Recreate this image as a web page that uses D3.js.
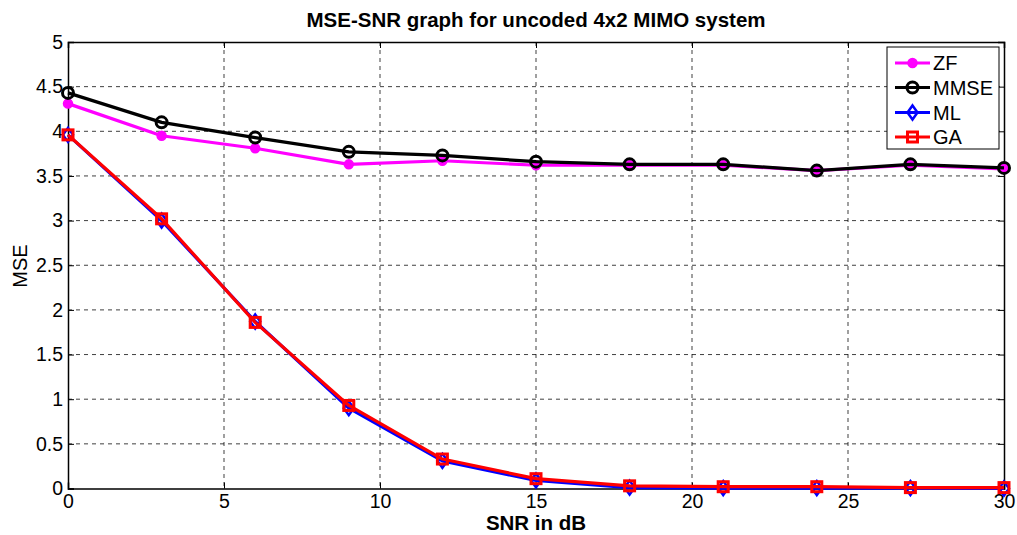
<!DOCTYPE html>
<html><head><meta charset="utf-8">
<script src="https://cdn.jsdelivr.net/npm/d3@7"></script>
<style>body{margin:0;background:#fff}svg{display:block;font-family:"Liberation Sans",Arial,sans-serif}</style>
</head><body><svg id="c" width="1017" height="535"></svg>
<script>
const snr = [0,3,6,9,12,15,18,21,24,27,30];
const zf   = [4.31,3.95,3.81,3.63,3.67,3.62,3.62,3.62,3.56,3.62,3.58];
const mmse = [4.43,4.10,3.93,3.77,3.73,3.66,3.63,3.63,3.56,3.63,3.59];
const ml   = [3.96,3.00,1.87,0.90,0.31,0.09,0.01,0.005,0.005,0.005,0.0];
const ga   = [3.96,3.02,1.86,0.93,0.33,0.11,0.03,0.02,0.02,0.01,0.01];
const xTicks = [0,5,10,15,20,25,30];
const yTicks = [0,0.5,1,1.5,2,2.5,3,3.5,4,4.5,5];
const seriesNames = ["ZF","MMSE","ML","GA"];
const title = "MSE-SNR graph for uncoded 4x2 MIMO system";
const xLabel = "SNR in dB", yLabel = "MSE";

const L=68,R=1004,T=42,B=488.5;
const svg=d3.select("#c");
const x=d3.scaleLinear().domain([0,30]).range([L,R]);
const y=d3.scaleLinear().domain([0,5]).range([B,T]);

// grid
const g=svg.append("g");
g.selectAll(".gx").data(xTicks.slice(1,-1)).join("line").attr("x1",d=>x(d)).attr("x2",d=>x(d)).attr("y1",T).attr("y2",B)
 .attr("stroke","#000").attr("stroke-width",1).attr("stroke-dasharray","4,4").attr("opacity",0.75);
g.selectAll(".gy").data(yTicks.slice(1,-1)).join("line").attr("y1",d=>y(d)).attr("y2",d=>y(d)).attr("x1",L).attr("x2",R)
 .attr("stroke","#000").attr("stroke-width",1).attr("stroke-dasharray","4,4").attr("opacity",0.75);

// axes
const fs=19.5;
const xa=svg.append("g").attr("transform",`translate(0,${B})`).call(d3.axisBottom(x).tickValues(xTicks).tickSize(-6).tickPadding(10).tickFormat(d3.format("d")));
const ya=svg.append("g").attr("transform",`translate(${L},0)`).call(d3.axisLeft(y).tickValues(yTicks).tickSize(-6).tickPadding(5).tickFormat(d=>String(d)));
const xt=svg.append("g").attr("transform",`translate(0,${T})`).call(d3.axisTop(x).tickValues(xTicks).tickSize(-6).tickFormat(""));
const yr=svg.append("g").attr("transform",`translate(${R},0)`).call(d3.axisRight(y).tickValues(yTicks).tickSize(-6).tickFormat(""));
[xa,ya,xt,yr].forEach(a=>{a.selectAll("path").attr("stroke","#000").attr("stroke-width",1.5);a.selectAll("line").attr("stroke","#000");
  a.selectAll("text").attr("font-size",fs).attr("fill","#000").attr("font-family","Liberation Sans, Arial, sans-serif");});
xa.selectAll("text").attr("dy","0.72em").attr("y",5);

// lines
const data=[
 {name:"ZF",v:zf,color:"#ff00ff",m:"dot"},
 {name:"MMSE",v:mmse,color:"#000000",m:"circle"},
 {name:"ML",v:ml,color:"#0000ff",m:"diamond"},
 {name:"GA",v:ga,color:"#ff0000",m:"square"}];
const line=d3.line().x((d,i)=>x(snr[i])).y(d=>y(d));
function marker(sel,m,color,cx,cy){
  if(m==="dot") sel.append("circle").attr("cx",cx).attr("cy",cy).attr("r",4.5).attr("fill",color).attr("stroke",color).attr("stroke-width",1.5);
  else if(m==="circle") sel.append("circle").attr("cx",cx).attr("cy",cy).attr("r",5.5).attr("fill","none").attr("stroke",color).attr("stroke-width",3);
  else if(m==="diamond") sel.append("path").attr("d",`M${cx},${cy-7}L${cx+5},${cy}L${cx},${cy+7}L${cx-5},${cy}Z`).attr("fill","none").attr("stroke",color).attr("stroke-width",2.5);
  else sel.append("rect").attr("x",cx-5).attr("y",cy-5).attr("width",10).attr("height",10).attr("fill","none").attr("stroke",color).attr("stroke-width",3);
}
data.forEach(s=>{
  const gg=svg.append("g");
  gg.append("path").datum(s.v).attr("d",line).attr("fill","none").attr("stroke",s.color).attr("stroke-width",3.2).attr("stroke-linejoin","round");
  s.v.forEach((d,i)=>marker(gg,s.m,s.color,x(snr[i]),y(d)));
});

// legend
const lg=svg.append("g");
lg.append("rect").attr("x",887).attr("y",47).attr("width",112).attr("height",102).attr("fill","#fff").attr("stroke","#000").attr("stroke-width",1);
const ly=[63,87.5,112.5,137];
data.forEach((s,i)=>{
  lg.append("line").attr("x1",895).attr("x2",930).attr("y1",ly[i]).attr("y2",ly[i]).attr("stroke",s.color).attr("stroke-width",3.2);
  marker(lg,s.m,s.color,912.5,ly[i]);
  lg.append("text").attr("x",933).attr("y",ly[i]).attr("dy","0.36em").attr("font-size",20).text(seriesNames[i]);
});

// titles
svg.append("text").attr("x",536).attr("y",27).attr("text-anchor","middle").attr("font-size",20.5).attr("font-weight","bold").text(title);
svg.append("text").attr("x",536).attr("y",530).attr("text-anchor","middle").attr("font-size",20.5).attr("font-weight","bold").text(xLabel);
svg.append("text").attr("transform","translate(27,266) rotate(-90)").attr("text-anchor","middle").attr("font-size",20).text(yLabel);
</script></body></html>
